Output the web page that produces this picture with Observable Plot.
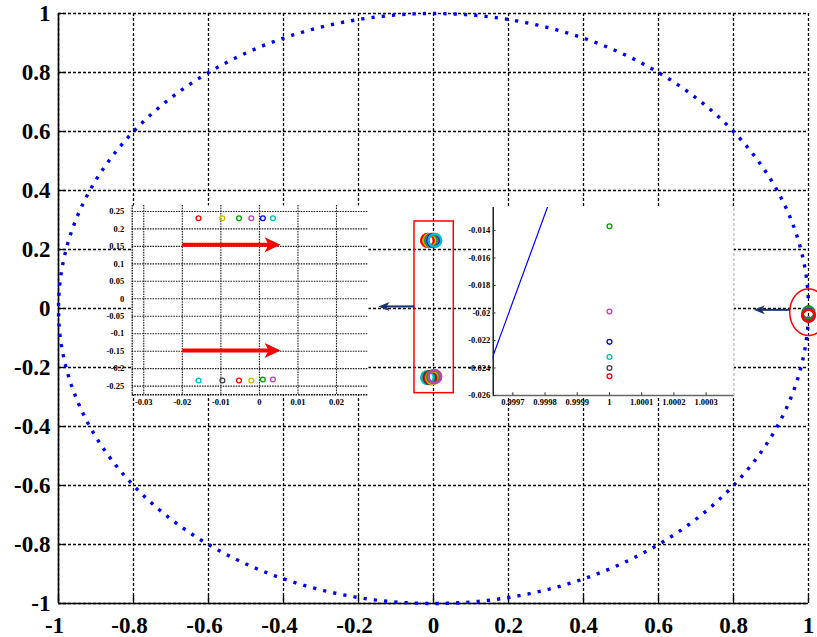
<!DOCTYPE html>
<html>
<head>
<meta charset="utf-8">
<script src="https://cdn.jsdelivr.net/npm/d3@7"></script>
<script src="https://cdn.jsdelivr.net/npm/@observablehq/plot@0.6"></script>
<style>
  html, body { margin: 0; padding: 0; overflow: hidden; background: white; }
  #wrap { position: relative; width: 817px; height: 637px; overflow: hidden; }
  #wrap svg { position: absolute; }
</style>
</head>
<body>
<div id="wrap"></div>
<script>
// ---------- data ----------
const mainTicks = [-1, -0.8, -0.6, -0.4, -0.2, 0, 0.2, 0.4, 0.6, 0.8, 1];

const leftXTicks = [-0.03, -0.02, -0.01, 0, 0.01, 0.02];
const leftYTicks = [-0.25, -0.2, -0.15, -0.1, -0.05, 0, 0.05, 0.1, 0.15, 0.2, 0.25];
const leftXDomain = [-0.033, 0.0283];
const leftYDomain = [-0.2748, 0.267];

const rightXTicks = [0.9997, 0.9998, 0.9999, 1, 1.0001, 1.0002, 1.0003];
const rightYTicks = [-0.026, -0.024, -0.022, -0.02, -0.018, -0.016, -0.014];
const rightXDomain = [0.999639, 1.000386];
const rightYDomain = [-0.026, -0.01233];

// upper pole cluster
const upperX = [-0.0158, -0.0096, -0.0053, -0.0021, 0.0009, 0.0035];
const upperY = [0.2307, 0.2307, 0.2307, 0.2307, 0.2307, 0.2307];
const upperColors = ["#ff0000", "#bfbf00", "#00a000", "#bf40bf", "#0000ff", "#00bfbf"];
// lower pole cluster
const lowerX = [-0.0158, -0.0096, -0.0053, -0.0021, 0.0009, 0.0035];
const lowerY = [-0.234, -0.234, -0.234, -0.234, -0.231, -0.231];
const lowerColors = ["#00bfbf", "#404040", "#ff0000", "#bfbf00", "#00a000", "#bf40bf"];
// real pole near 1
const rightX = [1, 1, 1, 1, 1, 1];
const rightY = [-0.0137, -0.0199, -0.0221, -0.0232, -0.0240, -0.0246];
const rightColors = ["#00a000", "#bf40bf", "#0000ff", "#00bfbf", "#404040", "#ff0000"];

// unit-circle chord visible in the right zoom
const chordX = [0.99962, 0.99982];
const chordY = [-0.02431, -0.01151];

// annotations
const redRect = [{x1: -0.0507, x2: 0.0541, y1: -0.287, y2: 0.295}];
const redEllipse = {cx: 1.0, cy: -0.0125, rx: 0.05, ry: 0.079};
const navyArrows = [
  {x1: -0.0507, x2: -0.1467, y: 0.007},
  {x1: 0.950, x2: 0.854, y: -0.0045}
];
const redArrows = [
  {x1: -0.02, x2: 0.0055, y: 0.155},
  {x1: -0.02, x2: 0.0055, y: -0.148}
];

// ---------- helpers ----------
const pts = (xs, ys, cs) => xs.map((x, i) => ({x, y: ys[i], c: cs[i]}));
const upper = pts(upperX, upperY, upperColors);
const lower = pts(lowerX, lowerY, lowerColors);
const rightPts = pts(rightX, rightY, rightColors);
const chord = chordX.map((x, i) => ({x, y: chordY[i]}));
const angles = d3.range(0, 361, 1);
const unitCircle = angles.map(a => ({x: Math.cos(a * Math.PI / 180), y: Math.sin(a * Math.PI / 180)}));
const ellipsePts = angles.map(a => ({
  x: redEllipse.cx + redEllipse.rx * Math.cos(a * Math.PI / 180),
  y: redEllipse.cy + redEllipse.ry * Math.sin(a * Math.PI / 180)
}));

function head(L, W, back, dir) {
  return {draw(ctx) {
    ctx.moveTo(0, 0);
    ctx.lineTo(-dir * L, -W);
    ctx.lineTo(-dir * (L - back), 0);
    ctx.lineTo(-dir * L, W);
    ctx.closePath();
  }};
}
const fmt = d => String(d);
const FONT = "'Liberation Serif', 'Times New Roman', serif";
const navy = "#1c3270";

// ---------- main plot ----------
const dotted = {stroke: "black", strokeWidth: 1.3, strokeDasharray: "3,2"};
const main = Plot.plot({
  width: 817, height: 637,
  marginLeft: 58, marginRight: 9, marginTop: 13, marginBottom: 34,
  x: {domain: [-1, 1]},
  y: {domain: [-1, 1]},
  color: {type: "identity"},
  style: {background: "white", fontFamily: FONT, fontWeight: "bold", fontSize: "23px", overflow: "visible", color: "black"},
  marks: [
    Plot.ruleX(mainTicks, dotted),
    Plot.ruleY(mainTicks, dotted),
    Plot.ruleX([-1], {stroke: "black", strokeWidth: 1.6}),
    Plot.ruleY([-1], {stroke: "black", strokeWidth: 1.6}),
    Plot.ruleX(mainTicks, {y1: -1, y2: -0.973, stroke: "black", strokeWidth: 1.3}),
    Plot.ruleY(mainTicks, {x1: -1, x2: -0.979, stroke: "black", strokeWidth: 1.3}),
    Plot.axisX({ticks: mainTicks.filter(d => d < 0), tickSize: 0, tickPadding: 13, tickFormat: fmt, label: null, dx: -4}),
    Plot.axisX({ticks: mainTicks.filter(d => d >= 0), tickSize: 0, tickPadding: 13, tickFormat: fmt, label: null}),
    Plot.axisY({ticks: mainTicks, tickSize: 0, tickPadding: 8, tickFormat: fmt, label: null}),
    Plot.line(unitCircle, {x: "x", y: "y", stroke: "#0000ff", strokeWidth: 3.4, strokeDasharray: "3.2,7.1", strokeLinecap: "butt", strokeLinejoin: "miter"}),
    Plot.rect(redRect, {x1: "x1", x2: "x2", y1: "y1", y2: "y2", fill: "none", stroke: "red", strokeWidth: 1.5}),
    Plot.dot(upper, {x: "x", y: "y", r: 6.3, stroke: "c", strokeWidth: 2.7}),
    Plot.dot(lower, {x: "x", y: "y", r: 6.3, stroke: "c", strokeWidth: 2.7}),
    Plot.dot(rightPts, {x: "x", y: "y", r: 6, stroke: "c", strokeWidth: 2.4}),
    Plot.line(ellipsePts, {x: "x", y: "y", stroke: "red", strokeWidth: 1.5}),
    Plot.arrow(navyArrows, {x1: "x1", y1: "y", x2: "x2", y2: "y", headLength: 0, insetEnd: 7, stroke: navy, strokeWidth: 2, strokeLinecap: "butt"}),
    Plot.dot(navyArrows, {x: "x2", y: "y", r: 5, symbol: head(11, 4.5, 3, -1), fill: navy, stroke: "none"})
  ]
});
document.getElementById("wrap").appendChild(main);
main.style.left = "0px"; main.style.top = "0px";

// ---------- left inset ----------
const gridIn = {stroke: "#222", strokeWidth: 1.1, strokeDasharray: "1.6,1"};
const leftInset = Plot.plot({
  width: 290, height: 220,
  marginLeft: 41.7, marginRight: 12, marginTop: 10, marginBottom: 20.7,
  x: {domain: leftXDomain},
  y: {domain: leftYDomain},
  color: {type: "identity"},
  style: {background: "transparent", fontFamily: FONT, fontWeight: "bold", fontSize: "8.5px", overflow: "visible", color: "black"},
  marks: [
    Plot.frame({fill: "white", stroke: "none"}),
    Plot.ruleX(leftXTicks, gridIn),
    Plot.ruleY(leftYTicks, gridIn),
    Plot.ruleX([leftXDomain[0]], {stroke: "#000", strokeWidth: 1.2, strokeDasharray: "1.6,1"}),
    Plot.ruleY([leftYDomain[0]], {stroke: "#000", strokeWidth: 1.4, strokeDasharray: "1.6,1"}),
    Plot.axisX({ticks: leftXTicks, tickSize: 0, tickPadding: 4, tickFormat: fmt, label: null}),
    Plot.axisY({ticks: leftYTicks, tickSize: 0, tickPadding: 8, tickFormat: fmt, label: null}),
    Plot.dot(upper, {x: "x", y: "y", r: 2.4, stroke: "c", strokeWidth: 1.3}),
    Plot.dot(lower, {x: "x", y: "y", r: 2.4, stroke: "c", strokeWidth: 1.3}),
    Plot.arrow(redArrows, {x1: "x1", y1: "y", x2: "x2", y2: "y", headLength: 0, insetEnd: 10, stroke: "red", strokeWidth: 4, strokeLinecap: "butt"}),
    Plot.dot(redArrows, {x: "x2", y: "y", r: 6, symbol: head(16, 7.5, 4, 1), fill: "red", stroke: "none"})
  ]
});
document.getElementById("wrap").appendChild(leftInset);
leftInset.style.left = "90px"; leftInset.style.top = "195px";

// ---------- right inset ----------
const rightInset = Plot.plot({
  width: 290, height: 220,
  marginLeft: 37.7, marginRight: 11.7, marginTop: 10, marginBottom: 22,
  x: {domain: rightXDomain},
  y: {domain: rightYDomain},
  color: {type: "identity"},
  style: {background: "transparent", fontFamily: FONT, fontWeight: "bold", fontSize: "8.5px", overflow: "visible", color: "black"},
  marks: [
    Plot.frame({fill: "white", stroke: "none"}),
    Plot.ruleX([rightXDomain[0]], {stroke: "black", strokeWidth: 1.3}),
    Plot.ruleY([rightYDomain[0]], {stroke: "#666", strokeWidth: 1.3}),
    Plot.ruleX(rightXTicks, {y1: rightYDomain[0], y2: rightYDomain[0] + 0.0002, stroke: "#333", strokeWidth: 1}),
    Plot.ruleY(rightYTicks, {x1: rightXDomain[0], x2: rightXDomain[0] + 0.000009, stroke: "#333", strokeWidth: 1}),
    Plot.axisX({ticks: rightXTicks, tickSize: 0, tickPadding: 3, tickFormat: fmt, label: null}),
    Plot.axisY({ticks: rightYTicks, tickSize: 0, tickPadding: 3, tickFormat: fmt, label: null}),
    Plot.line(chord, {x: "x", y: "y", stroke: "#0000ff", strokeWidth: 1.2, clip: true}),
    Plot.dot(rightPts, {x: "x", y: "y", r: 2.4, stroke: "c", strokeWidth: 1.3})
  ]
});
document.getElementById("wrap").appendChild(rightInset);
rightInset.style.left = "455px"; rightInset.style.top = "197px";
</script>
</body>
</html>
